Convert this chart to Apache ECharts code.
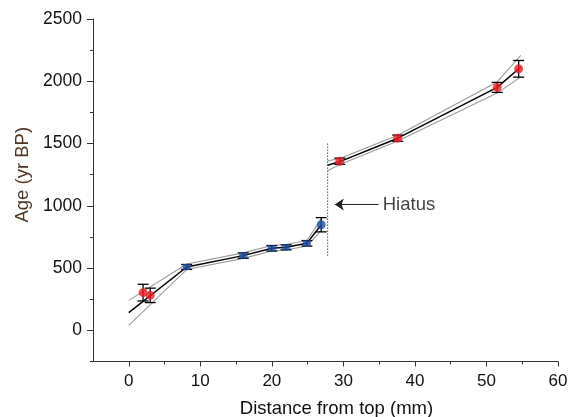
<!DOCTYPE html>
<html>
<head>
<meta charset="utf-8">
<script src="https://cdn.jsdelivr.net/npm/echarts@6/dist/echarts.min.js"></script>
<style>
  html, body { margin: 0; padding: 0; background: #fff; }
  #main { width: 568px; height: 417px; }
</style>
</head>
<body>
<div id="main"></div>
<script>
// dated samples (red = one group, blue = the other)
const redX = [2.0, 3.0, 29.5, 37.6, 51.5, 54.5];
const redAge = [303, 281, 1358, 1543, 1951, 2100];
const redErr = [67, 58, 25, 25, 40, 67];

const blueX = [8.1, 16.0, 20.0, 22.0, 24.9, 26.9];
const blueAge = [509, 600, 659, 667, 699, 848];
const blueErr = [20, 22, 22, 20, 22, 57];
const blueShape = ['rect', 'rect', 'rect', 'rect', 'rect', 'circle'];

// age model below the hiatus
const lowX = [0, 8.1, 16.0, 20.0, 22.0, 24.9, 26.9];
const lowMid = [142, 509, 600, 659, 667, 699, 848];
const lowHi = [241, 533, 622, 681, 689, 721, 895];
const lowLo = [40, 488, 578, 637, 645, 677, 800];

// age model above the hiatus
const upX = [27.8, 29.5, 37.6, 51.5, 54.8];
const upMid = [1326, 1355, 1543, 1951, 2115];
const upHi = [1361, 1380, 1566, 1995, 2208];
const upLo = [1281, 1332, 1520, 1905, 2035];

// hiatus marker
const hiatusX = [27.8, 27.8];
const hiatusAge = [600, 1500];
const arrowX = [34.9, 28.8];
const arrowAge = [1010, 1010];
const hiatusLabel = 'Hiatus';
const hiatusLabelX = 35.5;

// axes
const xTicks = [0, 10, 20, 30, 40, 50, 60];
const xMinor = [5, 15, 25, 35, 45, 55];
const yTicks = [0, 500, 1000, 1500, 2000, 2500];
const yMinor = [-250, 250, 750, 1250, 1750, 2250];

const zip = (xs, ys) => xs.map((x, i) => [x, ys[i]]);

const chart = echarts.init(document.getElementById('main'));

function errBar(params, api) {
  const x = api.value(0), y = api.value(1), e = api.value(2);
  const top = api.coord([x, y + e]);
  const bot = api.coord([x, y - e]);
  const hw = 5.5;
  const st = { stroke: '#000', lineWidth: 1.3 };
  return {
    type: 'group',
    children: [
      { type: 'line', shape: { x1: top[0], y1: top[1], x2: bot[0], y2: bot[1] }, style: st },
      { type: 'line', shape: { x1: top[0] - hw, y1: top[1], x2: top[0] + hw, y2: top[1] }, style: st },
      { type: 'line', shape: { x1: bot[0] - hw, y1: bot[1], x2: bot[0] + hw, y2: bot[1] }, style: st }
    ]
  };
}

const font = 'Liberation Sans, Arial, sans-serif';
const axisLineStyle = { color: '#333', width: 1 };
const plain = v => String(v);

const modelLine = (data, color, width, z) => ({
  type: 'line',
  data: data,
  showSymbol: false,
  symbol: 'none',
  silent: true,
  z: z,
  lineStyle: { color: color, width: width }
});

const option = {
  animation: false,
  backgroundColor: '#fff',
  textStyle: { fontFamily: font },
  grid: { left: 93, right: 10, top: 19, bottom: 55.5, containLabel: false, outerBoundsMode: 'none' },
  xAxis: [{
    type: 'value',
    min: -5,
    max: 60,
    name: 'Distance from top (mm)',
    nameLocation: 'middle',
    nameGap: 38,
    nameTextStyle: { fontSize: 18.5, color: '#111', fontFamily: font, padding: [0, 0, 0, 22] },
    axisLine: { show: true, onZero: false, lineStyle: axisLineStyle },
    axisTick: { show: true, inside: false, length: 5, customValues: xTicks, lineStyle: axisLineStyle },
    axisLabel: { customValues: xTicks, formatter: plain, fontSize: 17, color: '#111', margin: 11, fontFamily: font },
    splitLine: { show: false }
  }, {
    type: 'value',
    min: -5,
    max: 60,
    position: 'bottom',
    offset: 0,
    axisLine: { show: false, onZero: false },
    axisTick: { show: true, length: 3, customValues: xMinor, lineStyle: axisLineStyle },
    axisLabel: { show: false },
    splitLine: { show: false }
  }],
  yAxis: [{
    type: 'value',
    min: -250,
    max: 2500,
    name: 'Age (yr BP)',
    nameLocation: 'middle',
    nameGap: 59,
    nameTextStyle: { fontSize: 18.5, color: '#4f3523', fontFamily: font, padding: [0, 0, 0, 31] },
    axisLine: { show: true, onZero: false, lineStyle: axisLineStyle },
    axisTick: { show: true, inside: false, length: 6, customValues: yTicks, lineStyle: axisLineStyle },
    axisLabel: { customValues: yTicks, formatter: plain, fontSize: 17.5, color: '#111', margin: 11, fontFamily: font },
    splitLine: { show: false }
  }, {
    type: 'value',
    min: -250,
    max: 2500,
    position: 'left',
    offset: 0,
    axisLine: { show: false, onZero: false },
    axisTick: { show: true, length: 3, customValues: yMinor, lineStyle: axisLineStyle },
    axisLabel: { show: false },
    splitLine: { show: false }
  }],
  series: [
    modelLine(zip(lowX, lowHi), '#9a9a9a', 1.1, 2),
    modelLine(zip(lowX, lowLo), '#9a9a9a', 1.1, 2),
    modelLine(zip(lowX, lowMid), '#000', 1.5, 3),
    modelLine(zip(upX, upHi), '#9a9a9a', 1.1, 2),
    modelLine(zip(upX, upLo), '#9a9a9a', 1.1, 2),
    modelLine(zip(upX, upMid), '#000', 1.5, 3),
    {
      type: 'line',
      data: zip(hiatusX, hiatusAge),
      showSymbol: false,
      symbol: 'none',
      silent: true,
      lineStyle: { color: '#000', width: 1, type: [1, 2] }
    },
    {
      type: 'lines',
      coordinateSystem: 'cartesian2d',
      silent: true,
      symbol: ['none', 'arrow'],
      symbolSize: 9,
      lineStyle: { color: '#222', width: 1.2, opacity: 1 },
      data: [{ coords: zip(arrowX, arrowAge) }]
    },
    {
      type: 'scatter',
      data: [[hiatusLabelX, arrowAge[0]]],
      symbolSize: 0,
      silent: true,
      label: {
        show: true,
        position: 'right',
        distance: 0,
        formatter: hiatusLabel,
        fontSize: 18.5,
        color: '#111',
        fontFamily: font
      }
    },
    {
      type: 'custom',
      renderItem: errBar,
      z: 4,
      silent: true,
      data: redX.map((x, i) => [x, redAge[i], redErr[i]]).concat(
        blueX.map((x, i) => [x, blueAge[i], blueErr[i]]))
    },
    {
      type: 'scatter',
      z: 5,
      silent: true,
      symbol: 'circle',
      symbolSize: 9,
      itemStyle: { color: '#ee1c24' },
      data: zip(redX, redAge)
    },
    {
      type: 'scatter',
      z: 5,
      silent: true,
      itemStyle: { color: '#1f4fa3' },
      data: blueX.map((x, i) => ({
        value: [x, blueAge[i]],
        symbol: blueShape[i],
        symbolSize: blueShape[i] === 'rect' ? [8, 6] : 9
      }))
    }
  ]
};

chart.setOption(option);
</script>
</body>
</html>
